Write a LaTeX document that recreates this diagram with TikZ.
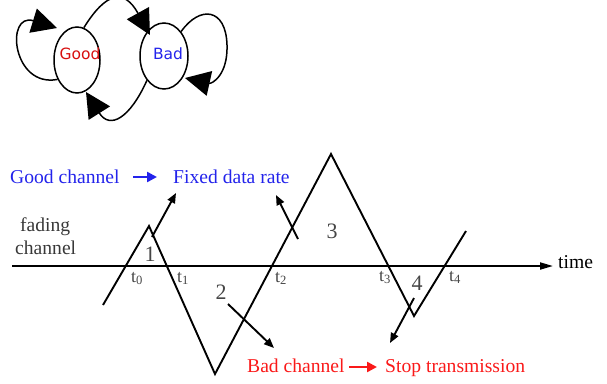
\documentclass[tikz,border=0pt]{standalone}
\usepackage{fontspec}
\setmainfont{Liberation Serif}
\newfontfamily\dvsans{DejaVu Sans}
\usetikzlibrary{arrows.meta,shapes.geometric}
\definecolor{txtblue}{RGB}{35,35,235}
\definecolor{txtred}{RGB}{250,25,25}
\definecolor{goodred}{RGB}{215,15,15}
\definecolor{digitgray}{RGB}{70,70,70}
\tikzset{
  stateellipse/.style={draw=black,line width=1.5pt,ellipse,inner sep=0pt},
  statelabel/.style={font=\dvsans\fontsize{15.5}{18}\selectfont,inner sep=0pt},
  looparrow/.style={line width=1.5pt,-{Triangle[length=25pt,width=25pt]}},
  bigtext/.style={font=\fontsize{19.6}{23}\selectfont,inner sep=0pt,anchor=base west},
  digit/.style={font=\fontsize{22}{25}\selectfont,text=digitgray,inner sep=0pt},
  tlabel/.style={font=\fontsize{18}{21}\selectfont,text=digitgray,inner sep=0pt,anchor=base west},
  sig/.style={line width=1.9pt,line join=miter},
  ptr/.style={line width=1.9pt,-{Triangle[length=10pt,width=8pt]}},
  colarrow/.style={line width=2.4pt,-{Triangle[length=10pt,width=10pt]}}
}
\begin{document}
\begin{tikzpicture}[x=1pt,y=-1pt]
\useasboundingbox (0,0) rectangle (607,383);
% ---- top state diagram ----
\node[stateellipse,minimum width=46pt,minimum height=66pt] (good) at (77,60) {};
\node[stateellipse,minimum width=48pt,minimum height=66pt] (bad) at (164,56) {};
\node[statelabel,text=goodred] (goodtxt) at (80,54) {Good};
\node[statelabel,text=txtblue] (badtxt) at (168,54) {Bad};
\coordinate (gl) at (57,28);
\coordinate (gb) at (150,35);
\coordinate (bl) at (185,78);
\coordinate (bg) at (86,92);
\draw[looparrow] (good.225) .. controls (12,88) and (5,12) .. (gl);
\draw[looparrow] (good.78) .. controls (106,-8) and (124,-12) .. (gb);
\draw[looparrow] (bad.55) .. controls (200,5) and (226,8) .. (227,45) .. controls (228,75) and (212,84) .. (bl);
\draw[looparrow] (bad.235) .. controls (130,118) and (110,130) .. (bg);
% ---- bottom: fading channel ----
\coordinate (ax0) at (12,266);
\coordinate (ax1) at (553,266);
\draw[line width=1.9pt,-{Triangle[length=13pt,width=7pt]}] (ax0) -- (ax1);
\node[bigtext] (time) at (558,268) {time};
\coordinate (s0) at (103,305);
\coordinate (s1) at (149,226);
\coordinate (s2) at (215,374);
\coordinate (s3) at (331,154);
\coordinate (s4) at (414,316);
\coordinate (s5) at (466,231);
\draw[sig] (s0) -- (s1) -- (s2) -- (s3) -- (s4) -- (s5);
% pointer arrows
\coordinate (p1a) at (152,237); \coordinate (p1b) at (176,193);
\coordinate (p2a) at (228,304); \coordinate (p2b) at (274,348);
\coordinate (p3a) at (298,239); \coordinate (p3b) at (276,195);
\coordinate (p4a) at (414,298); \coordinate (p4b) at (390,343);
\draw[ptr] (p1a) -- (p1b);
\draw[ptr] (p2a) -- (p2b);
\draw[ptr] (p3a) -- (p3b);
\draw[ptr] (p4a) -- (p4b);
% texts
\node[bigtext,text=digitgray!80!black] (fad) at (20,231) {fading};
\node[bigtext,text=digitgray!80!black] (chan) at (15,254) {channel};
\node[digit] (n1) at (150,254) {1};
\node[digit] (n2) at (221,292) {2};
\node[digit] (n3) at (332,231) {3};
\node[digit] (n4) at (417,283) {4};
\node[tlabel] (t0) at (131,282) {t\textsubscript{0}};
\node[tlabel] (t1) at (177,282) {t\textsubscript{1}};
\node[tlabel] (t2) at (275,282) {t\textsubscript{2}};
\node[tlabel] (t3) at (379,281) {t\textsubscript{3}};
\node[tlabel] (t4) at (449,281) {t\textsubscript{4}};
\node[bigtext,text=txtblue] (goodch) at (10,183) {Good channel};
\node[bigtext,text=txtblue] (fixed) at (173,183) {Fixed data rate};
\coordinate (ga) at (133,177); \coordinate (gbb) at (157,177);
\draw[colarrow,draw=txtblue,fill=txtblue] (ga) -- (gbb);
\node[bigtext,text=txtred] (badch) at (247,372) {Bad channel};
\node[bigtext,text=txtred] (stop) at (385,372) {Stop transmission};
\coordinate (ra) at (349,367); \coordinate (rb) at (377,367);
\draw[colarrow,draw=txtred,fill=txtred] (ra) -- (rb);
\end{tikzpicture}
\end{document}
